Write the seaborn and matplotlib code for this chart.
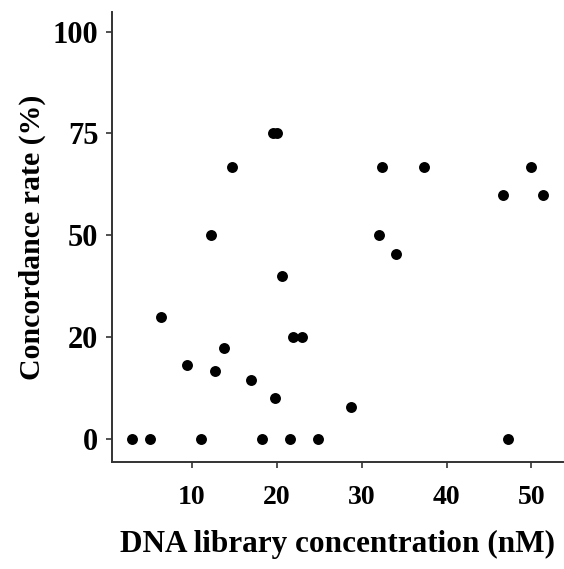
import numpy as np
import pandas as pd
import matplotlib.pyplot as plt
import seaborn as sns

# values
dna_conc = [12.3, 14.7, 19.55, 20.0, 32.4, 37.4, 50.0, 46.6, 51.4, 32.0,
            34.0, 20.6, 6.4, 21.9, 23.0, 13.8, 9.4, 12.7, 17.0, 19.8, 28.8,
            2.9, 5.1, 11.1, 18.2, 21.6, 24.9, 47.2]
concordance = [50, 66.7, 75, 75, 66.7, 66.7, 66.7, 60, 60, 50,
               44.5, 38, 26, 20, 20, 17.8, 14.5, 13.4, 11.5, 8.1, 6.2,
               0, 0, 0, 0, 0, 0, 0]

x_ticks = [10, 20, 30, 40, 50]
y_ticks = [0, 20, 50, 75, 100]

df = pd.DataFrame({"conc": dna_conc, "rate": concordance})

# the y axis puts the tick values at equal steps
step_vals = np.array(y_ticks, dtype=float)
step_pos = np.arange(len(y_ticks), dtype=float)


def fwd(v):
    v = np.asarray(v, dtype=float)
    return np.where(v < 0, v / 20.0,
                    np.where(v > 100, 4 + (v - 100) / 25.0,
                             np.interp(v, step_vals, step_pos)))


def inv(p):
    p = np.asarray(p, dtype=float)
    return np.where(p < 0, p * 20.0,
                    np.where(p > 4, 100 + (p - 4) * 25.0,
                             np.interp(p, step_pos, step_vals)))


sns.set_theme(style="ticks")
plt.rcParams['font.family'] = ['Liberation Serif', 'DejaVu Serif']
plt.rcParams['font.weight'] = 'bold'
plt.rcParams['text.color'] = 'black'
plt.rcParams['axes.labelcolor'] = 'black'

fig = plt.figure(figsize=(5.64, 5.69), dpi=100)
ax = fig.add_axes([0.198, 0.1875, 0.998 - 0.198, 0.9794 - 0.1875])
ax.set_yscale('function', functions=(fwd, inv))

sns.scatterplot(data=df, x="conc", y="rate", ax=ax, color="black",
                s=62, edgecolor="black", linewidth=0, legend=False)

ax.set_xlim(0.55, 53.7)
ax.set_ylim(inv(-0.229), inv(4.195))
ax.set_xticks(x_ticks)
ax.set_yticks(y_ticks)
ax.set_xticklabels([str(t) for t in x_ticks], fontsize=20, fontweight='bold')
ax.set_yticklabels([str(t) for t in y_ticks], fontsize=22, fontweight='bold')
ax.yaxis.set_minor_locator(plt.NullLocator())

ax.set_xlabel("DNA library concentration (nM)", fontsize=22.5, fontweight='bold', labelpad=14)
ax.set_ylabel("Concordance rate (%)", fontsize=21.5, fontweight='bold', labelpad=5)

for side in ["top", "right"]:
    ax.spines[side].set_visible(False)
for side in ["left", "bottom"]:
    ax.spines[side].set_color("#333333")
    ax.spines[side].set_linewidth(1.4)
ax.tick_params(axis="both", length=4.5, width=1.2, color="#333333", labelcolor="black")
ax.tick_params(axis="x", pad=12)
ax.tick_params(axis="y", pad=5)

fig.savefig("out.png", dpi=100)
plt.close(fig)
